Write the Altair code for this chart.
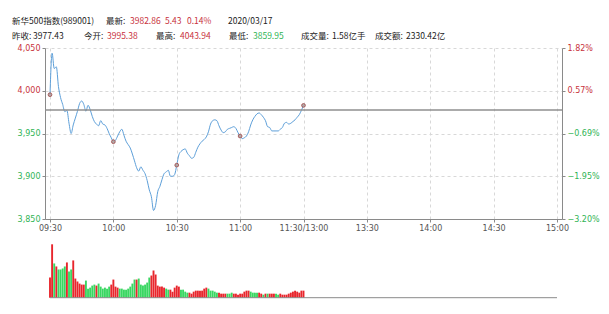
import json
import altair as alt
import pandas as pd

PREV_CLOSE = 3977.43

# minutes since 09:30 (0..120 = morning session)
prices = [
    3995.38, 4043.9, 4026, 4028, 4005, 3992, 3984, 3975.6, 3977, 3962,
    3950, 3960, 3968, 3976, 3985, 3988, 3984, 3976, 3983, 3978,
    3970, 3964, 3961, 3959, 3965, 3961, 3960, 3956, 3950, 3945,
    3940.4, 3942, 3947, 3952, 3955, 3948, 3941, 3937, 3933, 3926,
    3918, 3910, 3906, 3911, 3907, 3903, 3895, 3884, 3876, 3860,
    3866, 3882, 3888, 3896, 3903, 3905, 3907, 3900, 3900, 3902,
    3913, 3925, 3929, 3931, 3932, 3927, 3924, 3921, 3922, 3928,
    3934, 3938, 3941, 3943, 3946, 3952, 3961, 3965, 3966, 3965,
    3959, 3954, 3951, 3952, 3955, 3956, 3957, 3958, 3956, 3951,
    3947, 3944, 3945, 3947, 3952, 3960, 3966, 3970, 3973, 3974,
    3972, 3969, 3965, 3958, 3957, 3953, 3953, 3953, 3953, 3955,
    3957, 3962, 3963, 3961, 3962, 3964, 3966, 3969, 3972, 3977,
    3982.86,
]

# volume per minute (万手) and direction
volumes = [
    240, 636, 408, 372, 336, 336, 348, 372, 420, 312,
    336, 444, 228, 192, 168, 156, 156, 204, 108, 120,
    144, 156, 144, 168, 132, 108, 120, 108, 132, 156,
    216, 132, 120, 108, 108, 96, 96, 108, 132, 168,
    216, 216, 228, 156, 144, 156, 180, 240, 264, 324,
    276, 144, 132, 132, 120, 108, 96, 96, 72, 120,
    144, 132, 96, 96, 72, 60, 60, 48, 72, 84,
    84, 84, 84, 108, 120, 108, 84, 84, 72, 60,
    60, 48, 48, 48, 48, 48, 60, 48, 48, 36,
    48, 48, 72, 84, 84, 72, 60, 60, 60, 60,
    48, 36, 48, 48, 48, 48, 48, 48, 36, 48,
    36, 36, 36, 48, 60, 72, 84, 72, 60, 84,
    84,
]
dirs = list(
    "rrgrggggrggrrrrrrggggg"
    "rggggggrrrrggggggggrgggggg"
    "rrrrrrrggrrrrrgggg"
    "rrrrrrrrrgggggrrrrgggrrrrrrrrgggg"
    "rrgrgrrrggrrrrrrrrrrr"
)
dirs = (dirs + ["r"] * 121)[:121]
dir_names = ["涨" if d == "r" else "跌" for d in dirs]

TIME_LABELS = ["09:30", "10:00", "10:30", "11:00", "11:30/13:00",
               "13:30", "14:00", "14:30", "15:00"]
PRICE_TICKS = [3850, 3900, 3950, 4000, 4050]

RED = "#c8323c"
GREEN = "#2fb455"
BAR_RED = "#e8262d"
BAR_GREEN = "#3ad762"

price_df = pd.DataFrame({"t": list(range(len(prices))), "price": prices})
vol_df = pd.DataFrame({"t": list(range(len(volumes))), "vol": volumes, "dir": dir_names})
prev_df = pd.DataFrame({"p": [PREV_CLOSE]})

label_color = {"condition": {"test": f"datum.value > {PREV_CLOSE}", "value": RED}, "value": GREEN}

xscale = alt.Scale(domain=[0, 240], nice=False, zero=False)
yscale = alt.Scale(domain=[3850, 4050], nice=False, zero=False)

x_axis = alt.Axis(
    values=list(range(0, 241, 30)),
    labelExpr=json.dumps(TIME_LABELS) + "[round(datum.value / 30)]",
    title=None, grid=True, gridDash=[3, 3], gridColor="#d8d8d8",
    domainColor="#8a8a8a", tickColor="#8a8a8a", tickSize=3,
    labelColor="#555", labelFontSize=8, labelFont="DejaVu Sans", labelPadding=2,
)

left_axis = alt.Axis(
    values=PRICE_TICKS, format=",d", title=None, grid=True, gridDash=[3, 3],
    gridColor="#d8d8d8", domainColor="#8a8a8a", tickColor="#8a8a8a", tickSize=3,
    labelColor=label_color, labelFontSize=8, labelFont="DejaVu Sans", labelPadding=2,
)

right_axis = alt.Axis(
    orient="right", values=PRICE_TICKS, title=None, grid=False,
    labelExpr=f"format((datum.value - {PREV_CLOSE}) / {PREV_CLOSE} * 100, '.2f') + '%'",
    domainColor="#8a8a8a", tickColor="#8a8a8a", tickSize=3,
    labelColor=label_color, labelFontSize=8, labelFont="DejaVu Sans", labelPadding=2,
)

line = alt.Chart(price_df).mark_line(color="#5d9fd9", strokeWidth=1, interpolate="monotone").encode(
    x=alt.X("t:Q", scale=xscale, axis=x_axis),
    y=alt.Y("price:Q", scale=yscale, axis=left_axis),
)

markers = alt.Chart(price_df).transform_filter("datum.t % 30 == 0").mark_point(
    shape="circle", size=14, filled=True, fill="#b0a8a8", stroke="#a04545", strokeWidth=0.8, opacity=1
).encode(
    x=alt.X("t:Q", scale=xscale),
    y=alt.Y("price:Q", scale=yscale, axis=None),
)

prev_rule = alt.Chart(prev_df).mark_rule(color="#8f8f8f", strokeWidth=1.5).encode(
    y=alt.Y("p:Q", scale=yscale, axis=right_axis),
)

vol_scale = alt.Scale(domain=[0, 636], range=[249.7, 196.3], nice=False, zero=True)
bars = alt.Chart(vol_df).mark_bar(width=1.9).encode(
    x=alt.X("t:Q", scale=xscale),
    y=alt.Y("vol:Q", scale=vol_scale, axis=None),
    color=alt.Color("dir:N", scale=alt.Scale(domain=["涨", "跌"], range=[BAR_RED, BAR_GREEN]), legend=None),
)
vol_base = alt.Chart(pd.DataFrame({"v": [0], "a": [0], "b": [240]})).mark_rule(color="#8a8a8a", strokeWidth=1).encode(
    x=alt.X("a:Q", scale=xscale),
    x2="b:Q",
    y=alt.Y("v:Q", scale=vol_scale, axis=None),
)

# header texts (segment, left x, line, color)
header = [
    ("新华500指数(989001)", 12, 0, "#222"),
    ("最新:", 106, 0, "#222"),
    ("3982.86", 130, 0, RED),
    ("5.43", 165, 0, RED),
    ("0.14%", 187, 0, RED),
    ("2020/03/17", 228, 0, "#222"),
    ("昨收:", 12, 1, "#222"),
    ("3977.43", 33, 1, "#222"),
    ("今开:", 84, 1, "#222"),
    ("3995.38", 107, 1, RED),
    ("最高:", 156, 1, "#222"),
    ("4043.94", 180, 1, RED),
    ("最低:", 229, 1, "#222"),
    ("3859.95", 253, 1, GREEN),
    ("成交量:", 301, 1, "#222"),
    ("1.58亿手", 332, 1, "#222"),
    ("成交额:", 375, 1, "#222"),
    ("2330.42亿", 406, 1, "#222"),
]
text_layers = []
for s, xx, ln, col in header:
    text_layers.append(
        alt.Chart(pd.DataFrame({"s": [s]})).mark_text(
            align="left", baseline="middle", font="Noto Sans CJK SC", fontSize=8.5, color=col
        ).encode(text="s:N", x=alt.value(xx - 45), y=alt.value((21 if ln == 0 else 36) - 48))
    )

chart = alt.layer(line, markers, prev_rule, bars, vol_base, *text_layers).resolve_scale(
    y="independent"
).properties(
    width=517, height=171,
    padding={"left": 45, "top": 48, "right": 47, "bottom": 95},
    autosize=alt.AutoSizeParams(type="none"),
).configure_view(stroke=None)

chart.save("out.html", embed_options={"renderer": "svg", "actions": False})
